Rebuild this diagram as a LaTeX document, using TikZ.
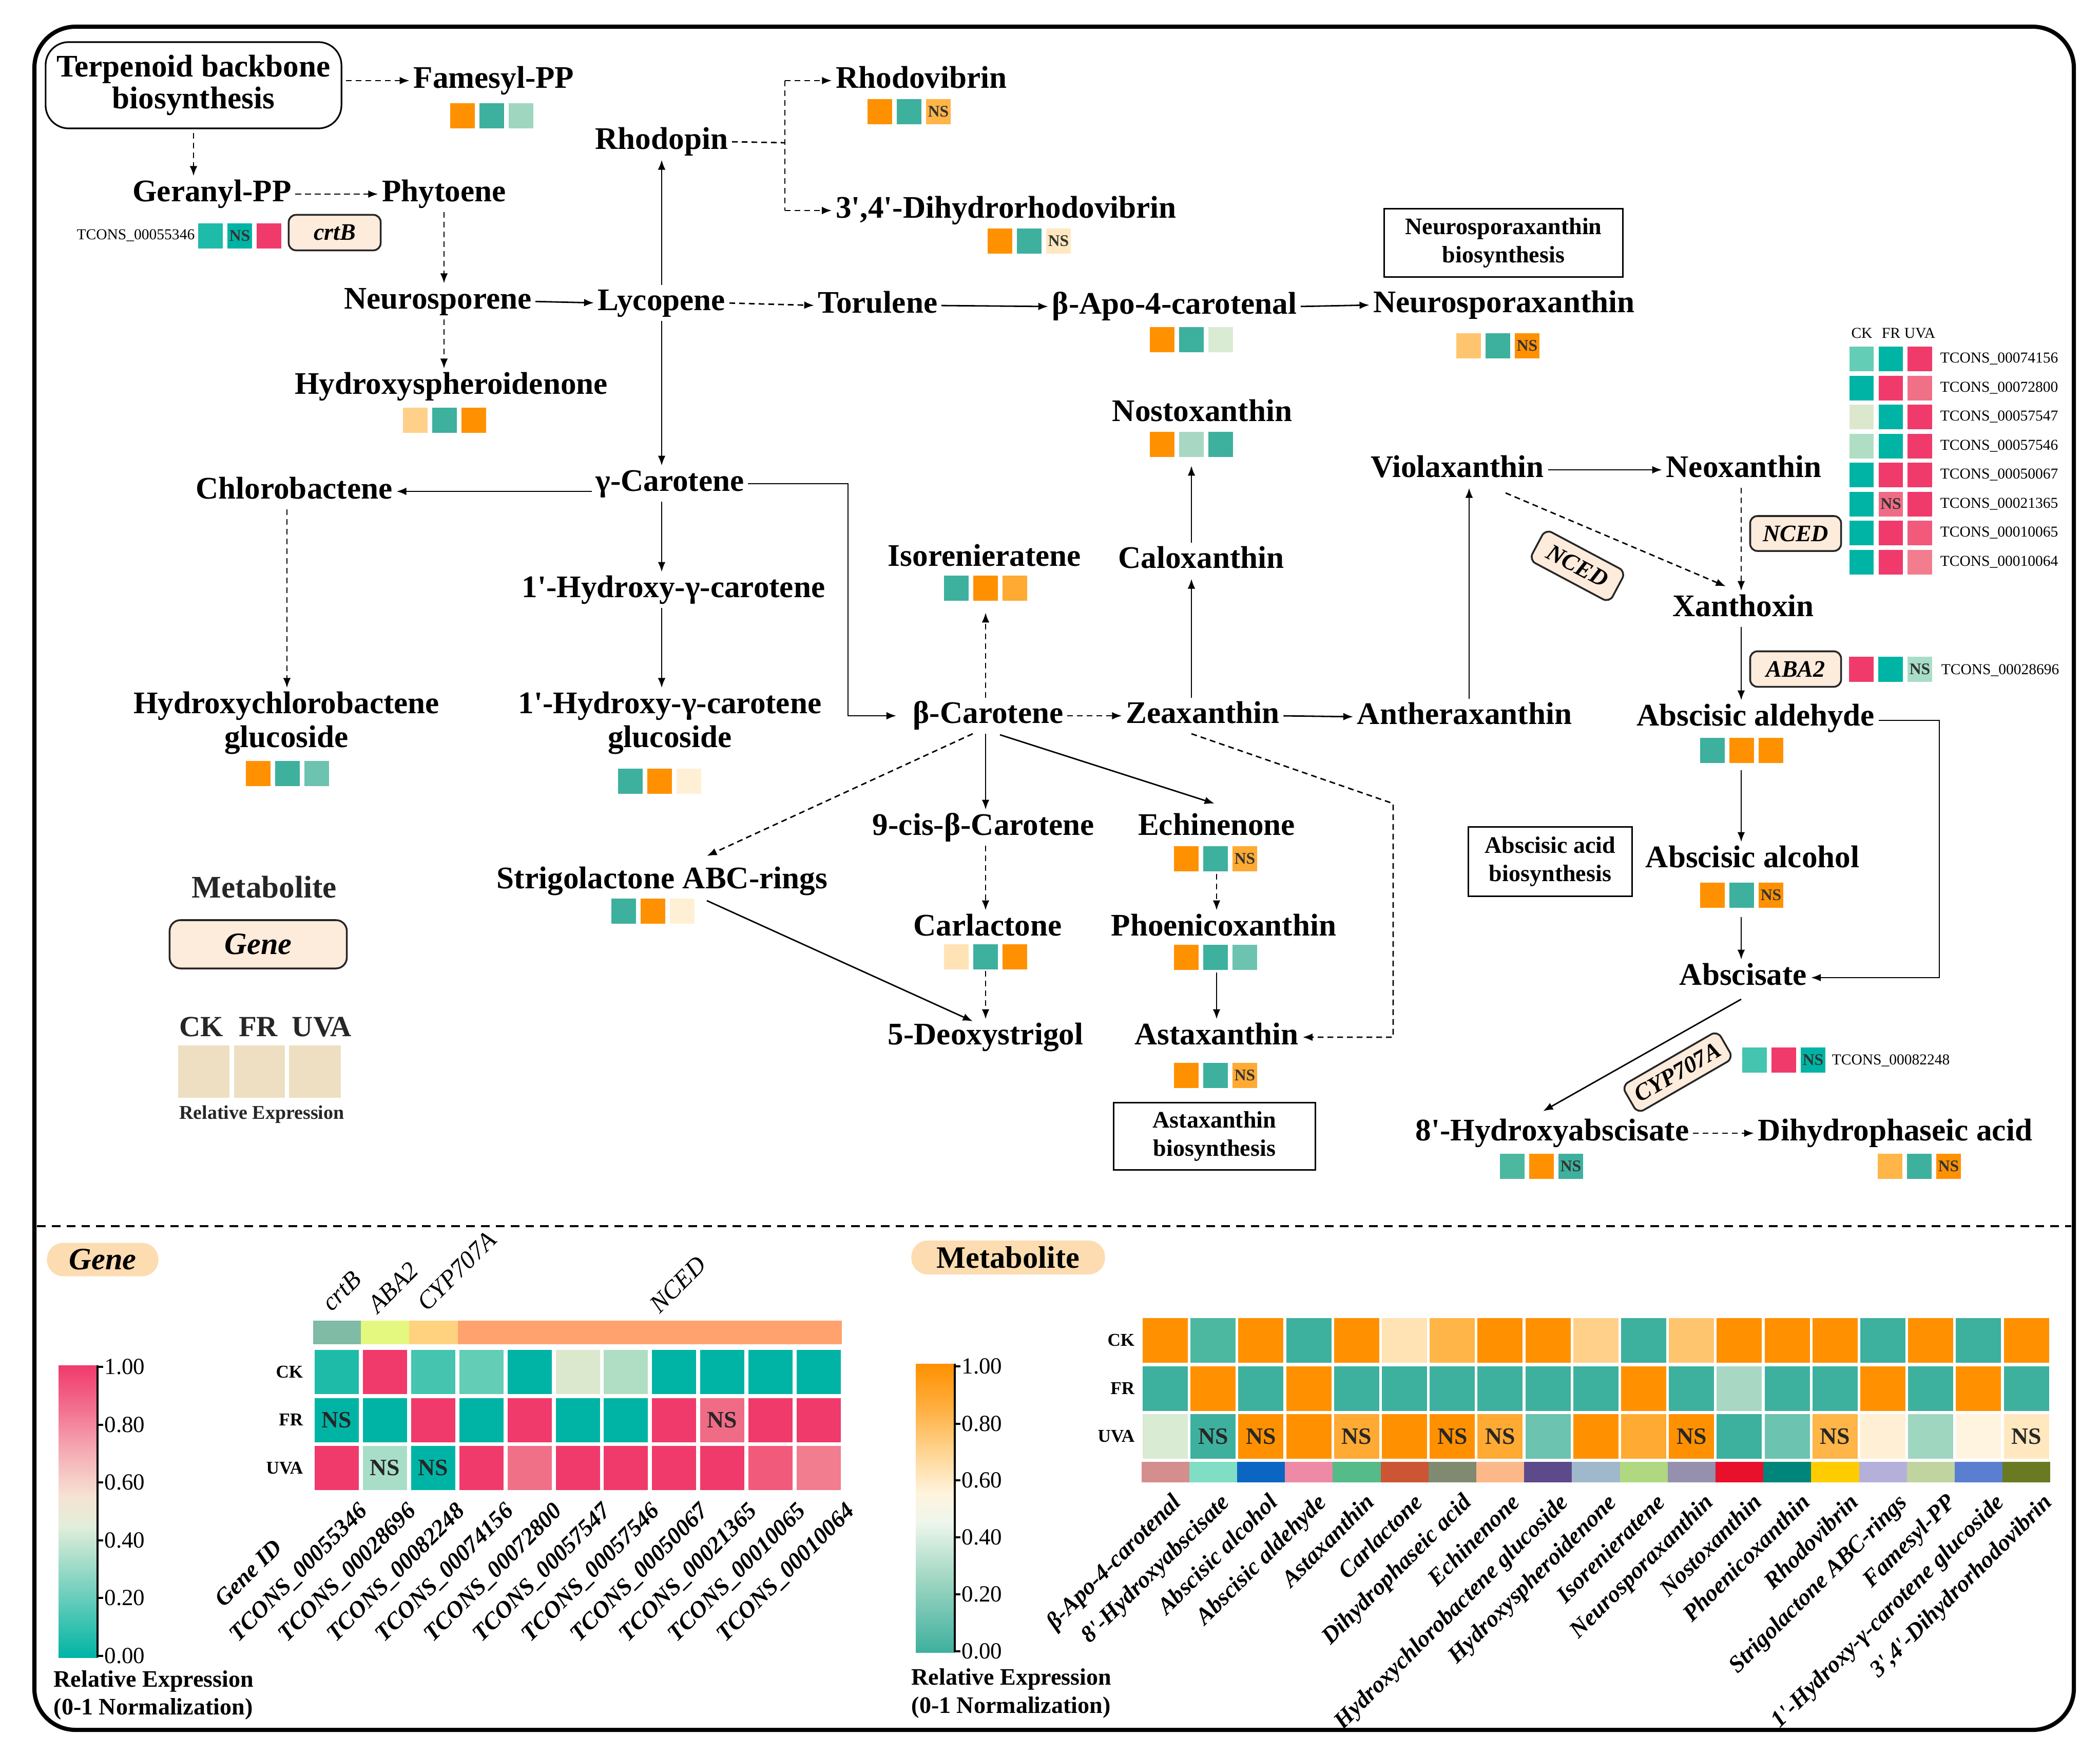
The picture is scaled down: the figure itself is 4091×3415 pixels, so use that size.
\documentclass[tikz,border=0pt]{standalone}
\usepackage{fontspec}
\setmainfont{Liberation Serif}[Ligatures=TeXOff]
\usetikzlibrary{arrows.meta,calc}

\definecolor{OR}{HTML}{FF9100}
\definecolor{TL}{HTML}{3EB09E}
\definecolor{GT}{HTML}{00B4A5}
\definecolor{RD}{HTML}{F03A6B}
\definecolor{LOA}{HTML}{FFAA33}
\definecolor{LOB}{HTML}{FFB547}
\definecolor{LOC}{HTML}{FFC56E}
\definecolor{LOD}{HTML}{FFD08A}
\definecolor{PCA}{HTML}{FFF0D5}
\definecolor{PCB}{HTML}{FFE3B5}
\definecolor{PCC}{HTML}{FFE8C0}
\definecolor{PCD}{HTML}{FFF4E0}
\definecolor{PGR}{HTML}{D9EBD3}
\definecolor{MNT}{HTML}{A8D8C4}
\definecolor{MNT2}{HTML}{9ED6C0}
\definecolor{LTL}{HTML}{6CC3AF}
\definecolor{TL2}{HTML}{4DB8A0}
\definecolor{GTL1}{HTML}{1FBBA9}
\definecolor{GTL2}{HTML}{45C4B0}
\definecolor{GTL3}{HTML}{63CDB5}
\definecolor{GMN}{HTML}{A8DEC8}
\definecolor{GPL}{HTML}{DCE8CE}
\definecolor{GMN2}{HTML}{B0DEC4}
\definecolor{PK1}{HTML}{F07088}
\definecolor{PK2}{HTML}{F06B85}
\definecolor{PK3}{HTML}{F15A7B}
\definecolor{PK4}{HTML}{F27D8F}
\definecolor{BOXF}{HTML}{FDEBDC}
\definecolor{PILL}{HTML}{FCDCB0}
\definecolor{LEG}{HTML}{EEDFC2}
\definecolor{AN1}{HTML}{D48E8E}
\definecolor{AN2}{HTML}{7FDEC4}
\definecolor{AN3}{HTML}{0A66C2}
\definecolor{AN4}{HTML}{EE8AA6}
\definecolor{AN5}{HTML}{55BB88}
\definecolor{AN6}{HTML}{CC5533}
\definecolor{AN7}{HTML}{808A70}
\definecolor{AN8}{HTML}{FDB88A}
\definecolor{AN9}{HTML}{5C4A8A}
\definecolor{AN10}{HTML}{A0B8CC}
\definecolor{AN11}{HTML}{B0D880}
\definecolor{AN12}{HTML}{9490AE}
\definecolor{AN13}{HTML}{E8102A}
\definecolor{AN14}{HTML}{00857A}
\definecolor{AN15}{HTML}{FFCC00}
\definecolor{AN16}{HTML}{B5B0DA}
\definecolor{AN17}{HTML}{C0D4A0}
\definecolor{AN18}{HTML}{5B7FD0}
\definecolor{AN19}{HTML}{6A7A22}
\definecolor{GA1}{HTML}{80BBA6}
\definecolor{GA2}{HTML}{E4F77E}
\definecolor{GA3}{HTML}{FFD27F}
\definecolor{GA4}{HTML}{FFA26E}
\definecolor{GB1}{HTML}{7FD3C0}
\definecolor{GB2}{HTML}{E2EEDA}
\definecolor{GB3}{HTML}{F6E3D3}
\definecolor{GB4}{HTML}{F5AEB6}
\definecolor{GB5}{HTML}{F27190}
\definecolor{MB1}{HTML}{9ED6C2}
\definecolor{MB2}{HTML}{EEF6EC}
\definecolor{MB3}{HTML}{FFF4DE}
\definecolor{MB4}{HTML}{FFD38E}
\definecolor{MB5}{HTML}{FFAE3E}

\pgfdeclareverticalshading{genebar}{100bp}{color(0bp)=(GT); color(25bp)=(GT); color(37.5bp)=(GB1); color(47.5bp)=(GB2); color(52.5bp)=(GB3); color(60bp)=(GB4); color(67.5bp)=(GB5); color(75bp)=(RD); color(100bp)=(RD)}
\pgfdeclareverticalshading{metbar}{100bp}{color(0bp)=(TL); color(25bp)=(TL); color(37.5bp)=(MB1); color(47.5bp)=(MB2); color(52.5bp)=(MB3); color(60bp)=(MB4); color(67.5bp)=(MB5); color(75bp)=(OR); color(100bp)=(OR)}

\tikzset{
  met/.style={font=\fontsize{17.4}{18.5}\selectfont\bfseries, inner sep=0pt, text height=12pt, text depth=3.6pt},
  metb/.style={font=\fontsize{17.4}{18.5}\selectfont\bfseries, inner sep=0pt, align=center},
  genebox/.style={draw=black!85, line width=1pt, fill=BOXF, rounded corners=4pt, font=\fontsize{13.1}{14}\selectfont\bfseries\itshape, inner sep=0pt},
  biobox/.style={draw, line width=0.85pt, align=center, font=\fontsize{13.1}{15.4}\selectfont\bfseries, inner sep=0pt},
  tsmall/.style={font=\fontsize{8.4}{9}\selectfont, inner sep=0pt, text height=6pt, text depth=1.5pt},
  nsm/.style={font=\fontsize{9}{10}\selectfont\bfseries, text=black!80, inner sep=0pt},
  nsh/.style={font=\fontsize{13}{14}\selectfont\bfseries, text=black!85, inner sep=0pt},
  rowlab/.style={font=\fontsize{10}{11}\selectfont\bfseries, inner sep=0pt, anchor=east},
  collab/.style={font=\fontsize{13.1}{14}\selectfont\bfseries\itshape, inner sep=0pt, rotate=45, anchor=north east, text height=9.5pt, text depth=2.8pt},
  grplab/.style={font=\fontsize{14}{15}\selectfont\itshape, inner sep=0pt, rotate=45, anchor=base west},
  ticklab/.style={font=\fontsize{12.8}{14}\selectfont, inner sep=0pt, anchor=west},
  relb/.style={font=\fontsize{13.1}{14}\selectfont\bfseries, inner sep=0pt, anchor=west},
  pill/.style={fill=PILL, rounded corners=0.32cm, inner sep=0pt, font=\fontsize{17.2}{18}\selectfont\bfseries},
  legt/.style={font=\fontsize{16.2}{17}\selectfont\bfseries, text=black!85, inner sep=0pt},
  arr/.style={line width=0.8pt, -{Latex[length=5.5pt,width=4.2pt]}, shorten >=2pt, shorten <=2pt},
  darr/.style={arr, dash pattern=on 3.2pt off 2.2pt},
  dline/.style={line width=0.8pt, dash pattern=on 3.2pt off 2.2pt},
}

\newcommand{\trio}[5]{%
  \fill[#3] (#1,#2) rectangle +(48,49);
  \fill[#4] (#1+57,#2) rectangle +(48,49);
  \fill[#5] (#1+114,#2) rectangle +(48,49);}

\begin{document}
\begin{tikzpicture}[x=0.01cm,y=-0.01cm]
\useasboundingbox (0,0) rectangle (4091,3415);
\fill[white] (0,0) rectangle (4091,3415);
\draw[line width=2.3pt, rounded corners=0.8cm] (67,52) rectangle (4040,3369);
\draw[line width=1.4pt, dash pattern=on 4.8pt off 3.4pt] (72,2388) -- (4035,2388);

% ---------- metabolite / gene nodes ----------
\node[draw, line width=0.9pt, rounded corners=0.45cm, minimum width=5.76cm, minimum height=1.68cm, align=center, inner sep=0pt, font=\fontsize{17.4}{17.6}\selectfont\bfseries] (terp) at (377,166) {Terpenoid backbone\\biosynthesis};
\node[met] (fam) at (962,157) {Famesyl-PP};
\node[met] (rhodopin) at (1289,276) {Rhodopin};
\node[met] (rhodovib) at (1795,157) {Rhodovibrin};
\node[met] (dihydrorh) at (1960,410) {3',4'-Dihydrorhodovibrin};
\node[met] (geranyl) at (413,378) {Geranyl-PP};
\node[met] (phytoene) at (865,378) {Phytoene};
\node[genebox, minimum width=1.79cm, minimum height=0.69cm] (crtB) at (652,453) {crtB};
\node[tsmall, anchor=east] (t55346) at (380,459) {TCONS\_00055346};
\node[met] (neurosp) at (853,587) {Neurosporene};
\node[met] (lyco) at (1289,590) {Lycopene};
\node[met] (hsph) at (879,753) {Hydroxyspheroidenone};
\node[met] (torul) at (1710,595) {Torulene};
\node[met] (bapo) at (2288,597) {β-Apo-4-carotenal};
\node[met] (nxan) at (2930,594) {Neurosporaxanthin};
\node[biobox, minimum width=4.64cm, minimum height=1.32cm] (nxbio) at (2929,473) {Neurosporaxanthin\\biosynthesis};
\node[met] (nosto) at (2342,806) {Nostoxanthin};
\node[met] (viola) at (2839,915) {Violaxanthin};
\node[met] (neox) at (3397,915) {Neoxanthin};
\node[genebox, minimum width=1.77cm, minimum height=0.68cm] (nced1) at (3498,1039) {NCED};
\node[genebox, minimum width=1.77cm, minimum height=0.68cm, rotate=-28] (nced2) at (3073,1102) {NCED};
\node[met] (xanth) at (3396,1186) {Xanthoxin};
\node[met] (gcar) at (1305,942) {γ-Carotene};
\node[met] (chloro) at (573,957) {Chlorobactene};
\node[met] (hgcar) at (1312,1149) {1'-Hydroxy-γ-carotene};
\node[met] (calox) at (2340,1092) {Caloxanthin};
\node[met] (isor) at (1918,1088) {Isorenieratene};
\node[metb] (hchl) at (558,1408) {Hydroxychlorobactene\\glucoside};
\node[metb] (hgglu) at (1305,1408) {1'-Hydroxy-γ-carotene\\glucoside};
\node[met] (bcar) at (1925,1394) {β-Carotene};
\node[met] (zeax) at (2343,1394) {Zeaxanthin};
\node[met] (anth) at (2853,1396) {Antheraxanthin};
\node[genebox, minimum width=1.77cm, minimum height=0.69cm] (aba2) at (3498,1303) {ABA2};
\node[tsmall, anchor=west] (t28696) at (3781,1306) {TCONS\_00028696};
\node[met] (aald) at (3420,1399) {Abscisic aldehyde};
\node[met] (ncis) at (1916,1612) {9-cis-β-Carotene};
\node[met] (echi) at (2370,1612) {Echinenone};
\node[biobox, minimum width=3.18cm, minimum height=1.34cm] (ababio) at (3020,1678) {Abscisic acid\\biosynthesis};
\node[met] (aalc) at (3414,1675) {Abscisic alcohol};
\node[met] (strig) at (1290,1716) {Strigolactone ABC-rings};
\node[met, text=black!85] (legmet) at (515,1734) {Metabolite};
\node[genebox, minimum width=3.45cm, minimum height=0.94cm, rounded corners=6pt, font=\fontsize{17.2}{18}\selectfont\bfseries\itshape] (leggene) at (503,1839) {Gene};
\node[met] (carl) at (1924,1808) {Carlactone};
\node[met] (phoe) at (2384,1808) {Phoenicoxanthin};
\node[met] (absc) at (3396,1904) {Abscisate};
\node[met] (deox) at (1920,2020) {5-Deoxystrigol};
\node[met] (asta) at (2370,2020) {Astaxanthin};
\node[biobox, minimum width=3.93cm, minimum height=1.31cm] (astabio) at (2366,2213) {Astaxanthin\\biosynthesis};
\node[genebox, rotate=30, minimum width=2.15cm, minimum height=0.62cm] (cyp) at (3268,2088) {CYP707A};
\node[tsmall, anchor=west] (t82248) at (3568,2066) {TCONS\_00082248};
\node[met] (hyab) at (3024,2207) {8'-Hydroxyabscisate};
\node[met] (dhpa) at (3692,2207) {Dihydrophaseic acid};

% legend
\node[legt] (lck) at (392,2000) {CK};
\node[legt] (lfr) at (503,2000) {FR};
\node[legt] (luva) at (627,2000) {UVA};
\fill[LEG] (347,2036) rectangle (447,2138);
\fill[LEG] (456,2036) rectangle (555,2138);
\fill[LEG] (563,2036) rectangle (664,2138);
\node[font=\fontsize{10.8}{12}\selectfont\bfseries, text=black!85, inner sep=0pt] (lrel) at (510,2170) {Relative Expression};

% ---------- expression squares ----------
\trio{877}{201}{OR}{TL}{MNT2}
\trio{1690}{193}{OR}{TL}{LOB} \node[nsm] (ns1) at (1828,217.5) {NS};
\trio{1924}{445}{OR}{TL}{PCC} \node[nsm] (ns2) at (2062,469.5) {NS};
\trio{785}{794}{LOD}{TL}{OR}
\trio{2240}{637}{OR}{TL}{PGR}
\trio{2837}{649}{LOC}{TL}{OR} \node[nsm] (ns3) at (2975,673.5) {NS};
\trio{2240}{841}{OR}{MNT}{TL}
\trio{1839}{1121}{TL}{OR}{LOA}
\trio{479}{1482}{OR}{TL}{LTL}
\trio{1204}{1497}{TL}{OR}{PCA}
\trio{3312}{1437}{TL}{OR}{OR}
\trio{2287}{1648}{OR}{TL}{LOA} \node[nsm] (ns4) at (2425,1672.5) {NS};
\trio{1191}{1750}{TL}{OR}{PCA}
\trio{1839}{1839}{PCB}{TL}{OR}
\trio{2287}{1840}{OR}{TL}{LTL}
\trio{3312}{1719}{OR}{TL}{OR} \node[nsm] (ns5) at (3450,1743.5) {NS};
\trio{2287}{2070}{OR}{TL}{LOA} \node[nsm] (ns6) at (2425,2094.5) {NS};
\trio{2922}{2247}{TL2}{OR}{TL} \node[nsm] (ns7) at (3060,2271.5) {NS};
\trio{3658}{2247}{LOB}{TL}{OR} \node[nsm] (ns8) at (3796,2271.5) {NS};
% gene squares
\trio{386}{435}{GTL1}{GT}{RD} \node[nsm] (ns9) at (467,459.5) {NS};
\trio{3602}{1279}{RD}{GT}{GMN} \node[nsm] (ns10) at (3740,1303.5) {NS};
\trio{3394}{2040}{GTL2}{RD}{GT} \node[nsm] (ns11) at (3532,2064.5) {NS};

% NCED grid
\node[tsmall] (hck) at (3627,651) {CK};
\node[tsmall] (hfr) at (3684,651) {FR};
\node[tsmall] (huva) at (3740,651) {UVA};
\foreach \ca/\cb/\cc/\tc [count=\i from 0] in {GTL3/GT/RD/00074156, GT/RD/PK1/00072800, GPL/GT/RD/00057547, GMN2/GT/RD/00057546, GT/RD/RD/00050067, GT/PK2/RD/00021365, GT/RD/PK3/00010065, GT/RD/PK4/00010064} {
  \fill[\ca] (3603,675+56.5*\i) rectangle +(47,48);
  \fill[\cb] (3660,675+56.5*\i) rectangle +(47,48);
  \fill[\cc] (3716,675+56.5*\i) rectangle +(48,48);
  \node[tsmall, anchor=west] (ng\i) at (3779,699+56.5*\i) {TCONS\_\tc};
}
\node[nsm] (ns12) at (3683.5,981.5) {NS};

% ---------- connectors ----------
\draw[darr] (terp.east |- fam) -- (fam.west);
\draw[darr] (terp.south) -- (terp.south |- geranyl.north);
\draw[darr] (geranyl.east) -- (phytoene.west);
\draw[darr] (phytoene.south) -- (phytoene.south |- neurosp.north);
\draw[arr] (neurosp.east) -- (lyco.west);
\draw[darr] (phytoene.south |- neurosp.south) -- (phytoene.south |- hsph.north);
\draw[arr] (lyco.north) -- (rhodopin.south);
\coordinate (rb) at (1529,278);
\draw[dline, shorten <=2pt] (rhodopin.east) -- (rb);
\draw[dline] (rb |- rhodovib.west) -- (rb |- dihydrorh.west);
\draw[darr, shorten <=0pt] (rb |- rhodovib.west) -- (rhodovib.west);
\draw[darr, shorten <=0pt] (rb |- dihydrorh.west) -- (dihydrorh.west);
\draw[darr] (lyco.east) -- (torul.west);
\draw[arr] (torul.east) -- (bapo.west);
\draw[arr] (bapo.east) -- (nxan.west);
\draw[arr] (lyco.south) -- (lyco.south |- gcar.north);
\draw[arr] (gcar.west |- chloro) -- (chloro.east);
\coordinate (chx) at (559,0);
\draw[darr] (chloro.south -| chx) -- (hchl.north -| chx);
\draw[arr] (lyco.south |- gcar.south) -- (lyco.south |- hgcar.north);
\draw[arr] (lyco.south |- hgcar.south) -- (lyco.south |- hgglu.north);
\coordinate (gb) at (1652,942);
\draw[arr, shorten >=9pt] (gcar.east) -- (gb) |- (bcar.west);
\coordinate (bx) at (1920,0);
\draw[arr] (bcar.south -| bx) -- (ncis.north -| bx);
\draw[darr] (ncis.south -| bx) -- (carl.north -| bx);
\coordinate (carlsq) at (1920,1891);
\draw[darr, shorten <=0pt] (carlsq) -- (deox.north -| bx);
\coordinate (isosq) at (1920,1186);
\draw[darr] (bcar.north -| bx) -- (isosq);
\draw[darr] (bcar.east) -- (zeax.west);
\draw[arr] (zeax.east) -- (anth.west);
\coordinate (zcx) at (2321,0);
\draw[arr] (zeax.north -| zcx) -- (calox.south -| zcx);
\coordinate (nostosq) at (2321,900);
\draw[arr] (calox.north -| zcx) -- (nostosq);
\coordinate (axx) at (2862,0);
\draw[arr] (anth.north -| axx) -- (viola.south -| axx);
\draw[arr] (viola.east) -- (neox.west);
\coordinate (xx) at (3392,0);
\draw[darr] (neox.south -| xx) -- (xanth.north -| xx);
\coordinate (vx1) at (2933,960);
\coordinate (vx2) at (3362,1142);
\draw[darr, shorten <=0pt, shorten >=0pt] (vx1) -- (vx2);
\draw[arr] (xanth.south -| xx) -- (aald.north -| xx);
\coordinate (aldsq) at (3392,1500);
\draw[arr, shorten <=0pt] (aldsq) -- (aalc.north -| xx);
\coordinate (alcsq) at (3392,1786);
\draw[arr, shorten <=0pt] (alcsq) -- (absc.north -| xx);
\coordinate (byp) at (3778,1403);
\draw[arr] (aald.east |- byp) -- (byp) |- (absc.east);
\coordinate (ab1) at (3392,1946);
\coordinate (hy1) at (3006,2164);
\draw[arr, shorten <=0pt, shorten >=0pt] (ab1) -- (hy1);
\draw[darr] (hyab.east) -- (dhpa.west);
\coordinate (bsl) at (1895,1429);
\coordinate (sls) at (1377,1667);
\draw[darr, shorten <=0pt, shorten >=0pt] (bsl) -- (sls);
\coordinate (sl1) at (1377,1754);
\coordinate (dx1) at (1895,1989);
\draw[arr, shorten <=0pt, shorten >=0pt] (sl1) -- (dx1);
\coordinate (be1) at (1948,1431);
\coordinate (ech1) at (2366,1565);
\draw[arr, shorten <=0pt, shorten >=0pt] (be1) -- (ech1);
\coordinate (ex) at (2370,0);
\coordinate (echsq) at (2370,1702);
\draw[darr, shorten <=0pt] (echsq) -- (phoe.north -| ex);
\coordinate (phsq) at (2370,1894);
\draw[arr, shorten <=0pt] (phsq) -- (asta.north -| ex);
\coordinate (za1) at (2321,1429);
\coordinate (za2) at (2714,1565);
\draw[darr, shorten <=0pt] (za1) -- (za2) -- (za2 |- asta.east) -- (asta.east);

% ---------- bottom: gene heatmap ----------
\node[pill, minimum width=2.17cm, minimum height=0.65cm] (pgene) at (200,2453) {\itshape Gene};
\node[pill, minimum width=3.77cm, minimum height=0.66cm] (pmet) at (1964,2449) {Metabolite};

\fill[GA1] (610,2572) rectangle (703,2618);
\fill[GA2] (703,2572) rectangle (797,2618);
\fill[GA3] (797,2572) rectangle (892,2618);
\fill[GA4] (892,2572) rectangle (1640,2618);
\node[grplab] (gcrtb) at (646,2556) {crtB};
\node[grplab] (gaba) at (736,2560) {ABA2};
\node[grplab] (gcyp) at (832,2556) {CYP707A};
\node[grplab] (gnced) at (1285,2560) {NCED};

\foreach \ca/\cb/\cc [count=\i from 0] in {GTL1/GT/RD, RD/GT/GMN, GTL2/RD/GT, GTL3/GT/RD, GT/RD/PK1, GPL/GT/RD, GMN2/GT/RD, GT/RD/RD, GT/PK2/RD, GT/RD/PK3, GT/RD/PK4} {
  \fill[\ca] (613+93.9*\i,2629) rectangle +(86,86);
  \fill[\cb] (613+93.9*\i,2722.5) rectangle +(86,86);
  \fill[\cc] (613+93.9*\i,2816) rectangle +(86,86);
}
\node[nsh] (gns1) at (656,2765.5) {NS};
\node[nsh] (gns2) at (750,2859) {NS};
\node[nsh] (gns3) at (844,2859) {NS};
\node[nsh] (gns4) at (1407,2765.5) {NS};
\node[rowlab] (grck) at (591,2672) {CK};
\node[rowlab] (grfr) at (591,2765) {FR};
\node[rowlab] (gruva) at (591,2859) {UVA};
\node[collab] (geneid) at (528,2992) {Gene ID};
\foreach \tc [count=\i from 0] in {00055346,00028696,00082248,00074156,00072800,00057547,00057546,00050067,00021365,00010065,00010064} {
  \node[collab] (gc\i) at (694+94.9*\i,2921) {TCONS\_\tc};
}
\shade[shading=genebar] (114,2659) rectangle (190,3228);
\draw[line width=1.1pt] (190,2659) -- (190,3228);
\foreach \v/\yy [count=\k] in {1.00/2662, 0.80/2775, 0.60/2887, 0.40/3000, 0.20/3112, 0.00/3225} {
  \draw[line width=1.1pt] (190,\yy) -- (201,\yy);
  \node[ticklab] (gtk\k) at (203,\yy) {\v};
}
\node[relb] (gre1) at (104,3274) {Relative Expression};
\node[relb] (gre2) at (104,3328) {(0-1 Normalization)};

% ---------- bottom: metabolite heatmap ----------
\foreach \ca/\cb/\cc/\an [count=\i from 0] in {OR/TL/PGR/AN1, TL2/OR/TL/AN2, OR/TL/OR/AN3, TL/OR/OR/AN4, OR/TL/LOA/AN5, PCB/TL/OR/AN6, LOB/TL/OR/AN7, OR/TL/LOA/AN8, OR/TL/LTL/AN9, LOD/TL/OR/AN10, TL/OR/LOA/AN11, LOC/TL/OR/AN12, OR/MNT/TL/AN13, OR/TL/LTL/AN14, OR/TL/LOB/AN15, TL/OR/PCA/AN16, OR/TL/MNT2/AN17, TL/OR/PCD/AN18, OR/TL/PCC/AN19} {
  \fill[\ca] (2226+93.2*\i,2567) rectangle +(88,87);
  \fill[\cb] (2226+93.2*\i,2660.5) rectangle +(88,87);
  \fill[\cc] (2226+93.2*\i,2754) rectangle +(88,87);
  \fill[\an] (2223.5+93.2*\i,2847) rectangle +(93.2,40);
}
\foreach \i in {1,2,4,6,7,11,14,18} {
  \node[nsh] (mns\i) at (2270+93.2*\i,2797.5) {NS};
}
\node[rowlab] (mrck) at (2211,2610) {CK};
\node[rowlab] (mrfr) at (2211,2704) {FR};
\node[rowlab] (mruva) at (2211,2797) {UVA};
\foreach \tc [count=\i from 0] in {β-Apo-4-carotenal, 8'-Hydroxyabscisate, Abscisic alcohol, Abscisic aldehyde, Astaxanthin, Carlactone, Dihydrophaseic acid, Echinenone, Hydroxychlorobactene glucoside, Hydroxyspheroidenone, Isorenieratene, Neurosporaxanthin, Nostoxanthin, Phoenicoxanthin, Rhodovibrin, Strigolactone ABC-rings, Famesyl-PP, 1'-Hydroxy-γ-carotene glucoside, {3',4'-Dihydrorhodovibrin}} {
  \node[collab] (mc\i) at (2279+94.3*\i,2904) {\tc};
}
\shade[shading=metbar] (1784,2656) rectangle (1860,3218);
\draw[line width=1.1pt] (1860,2656) -- (1860,3218);
\foreach \v/\yy [count=\k] in {1.00/2661, 0.80/2773, 0.60/2883, 0.40/2994, 0.20/3105, 0.00/3216} {
  \draw[line width=1.1pt] (1860,\yy) -- (1871,\yy);
  \node[ticklab] (mtk\k) at (1873,\yy) {\v};
}
\node[relb] (mre1) at (1775,3270) {Relative Expression};
\node[relb] (mre2) at (1775,3325) {(0-1 Normalization)};
\end{tikzpicture}
\end{document}
